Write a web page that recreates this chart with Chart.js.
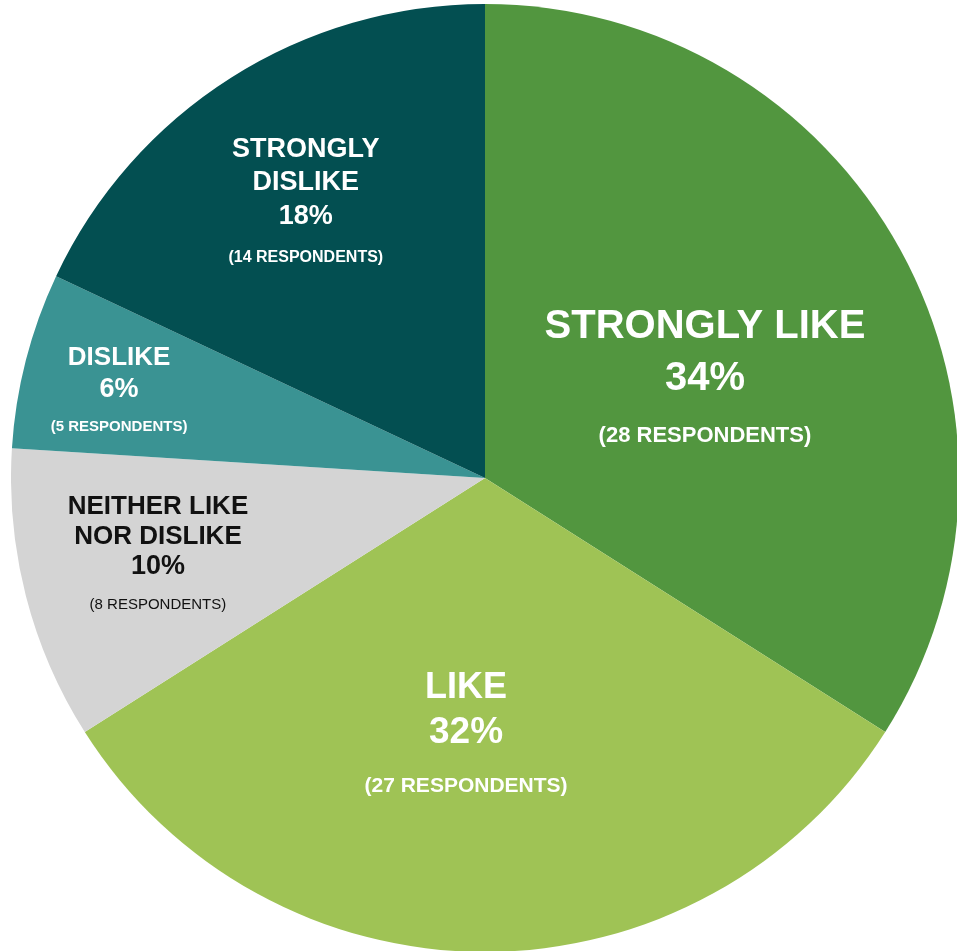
<!DOCTYPE html>
<html>
<head>
<meta charset="utf-8">
<script src="https://cdn.jsdelivr.net/npm/chart.js@4/dist/chart.umd.min.js"></script>
<style>
  html, body { margin: 0; padding: 0; background: #ffffff; }
  body { width: 957px; height: 951px; position: relative; overflow: hidden; }
  #wrap { position: absolute; left: 11px; top: 4px; width: 948px; height: 948px; }
</style>
</head>
<body>
<div id="wrap"><canvas id="pieChart"></canvas></div>
<script>
// Chart data
const categories = ['STRONGLY LIKE', 'LIKE', 'NEITHER LIKE\nNOR DISLIKE', 'DISLIKE', 'STRONGLY\nDISLIKE'];
const percentages = [34, 32, 10, 6, 18];
const respondents = [28, 27, 8, 5, 14];
const sliceColors = ['#52963f', '#9fc355', '#d4d4d4', '#3a9393', '#034f51'];

// Label placement (fraction of radius from center) and text styles
const labelStyles = [
  { fx: 0.464, fy: -0.325, title: 40, pct: 40, resp: 22, gaps: [52, 52, 58], color: '#ffffff', respWeight: 'bold' },
  { fx: -0.040, fy: 0.437, title: 36, pct: 37, resp: 21, gaps: [45, 45, 54], color: '#ffffff', respWeight: 'bold' },
  { fx: -0.690, fy: 0.057, title: 26, pct: 27, resp: 15, gaps: [30, 29, 40], color: '#111111', respWeight: 'normal' },
  { fx: -0.772, fy: -0.257, title: 26, pct: 27, resp: 15, gaps: [31, 31, 38], color: '#ffffff', respWeight: 'bold' },
  { fx: -0.378, fy: -0.698, title: 27, pct: 27, resp: 16, gaps: [33.5, 33.5, 42], color: '#ffffff', respWeight: 'bold' }
];

const FONT = '"Liberation Sans", Arial, Helvetica, sans-serif';

// Draw the text blocks inside each slice
const sliceLabels = {
  id: 'sliceLabels',
  afterDatasetsDraw(chart) {
    const ctx = chart.ctx;
    const meta = chart.getDatasetMeta(0);
    meta.data.forEach((arc, i) => {
      const st = labelStyles[i];
      const R = arc.outerRadius;
      const x = arc.x + st.fx * R;
      let y = arc.y + st.fy * R;
      ctx.save();
      ctx.fillStyle = st.color;
      ctx.textAlign = 'center';
      ctx.textBaseline = 'alphabetic';

      const titleLines = categories[i].split('\n');
      ctx.font = 'bold ' + st.title + 'px ' + FONT;
      titleLines.forEach((line, k) => {
        if (k > 0) y += st.gaps[0];
        ctx.fillText(line, x, y + st.title * 0.358);
      });

      y += titleLines.length > 1 ? st.gaps[1] : st.gaps[0];
      ctx.font = 'bold ' + st.pct + 'px ' + FONT;
      ctx.fillText(percentages[i] + '%', x, y + st.pct * 0.358);

      y += st.gaps[2];
      ctx.font = st.respWeight + ' ' + st.resp + 'px ' + FONT;
      ctx.fillText('(' + respondents[i] + ' RESPONDENTS)', x, y + st.resp * 0.358);
      ctx.restore();
    });
  }
};

new Chart(document.getElementById('pieChart').getContext('2d'), {
  type: 'pie',
  data: {
    labels: categories,
    datasets: [{
      data: percentages,
      backgroundColor: sliceColors,
      borderWidth: 0,
      hoverOffset: 0
    }]
  },
  options: {
    responsive: true,
    maintainAspectRatio: false,
    animation: false,
    layout: { padding: 0 },
    plugins: {
      legend: { display: false },
      tooltip: { enabled: false }
    }
  },
  plugins: [sliceLabels]
});
</script>
</body>
</html>
